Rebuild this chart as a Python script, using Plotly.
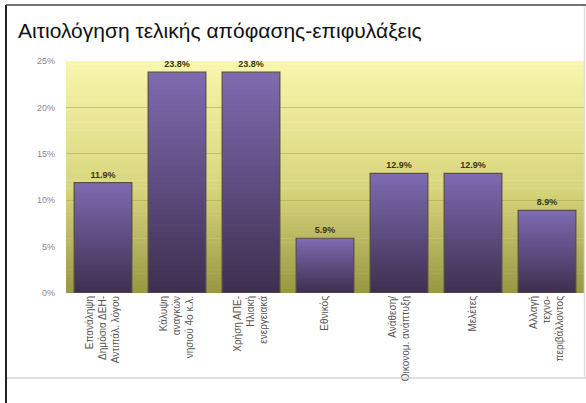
import plotly.graph_objects as go

# Survey results: justification of the final decision / reservations
categories = [
    "Επανάληψη<br>Δημόσια ΔΕΗ-<br>Αντιπάλ. λόγου",
    "Κάλυψη<br>αναγκών<br>νησιού 4ο κ.λ.",
    "Χρήση ΑΠΕ-<br>Ηλιακή<br>ενεργειακά",
    "Εθνικός",
    "Ανάθεση/<br>Οικονομ. ανάπτυξη",
    "Μελέτες",
    "Αλλαγή<br>τεχνο-<br>περιβάλλοντος",
]
shares = [0.119, 0.238, 0.238, 0.059, 0.129, 0.129, 0.089]
value_labels = ["11.9%", "23.8%", "23.8%", "5.9%", "12.9%", "12.9%", "8.9%"]
y_ticks = [0, 0.05, 0.10, 0.15, 0.20, 0.25]
y_tick_labels = ["0%", "5%", "10%", "15%", "20%", "25%"]

W, H = 586, 403
L, R, T, B = 66, 2, 61, 110


def lerp(c0, c1, t):
    return tuple(round(a + (b - a) * t) for a, b in zip(c0, c1))


def rgb(c):
    return "rgb(%d,%d,%d)" % c


fig = go.Figure()

# Bars shaded light-to-dark from top to bottom by overlaying shorter copies
bar_top = (126, 106, 176)
bar_bottom = (62, 48, 80)
N = 40
for k in range(N):
    frac = 1 - k / N
    fig.add_trace(go.Bar(
        x=categories,
        y=[v * frac for v in shares],
        marker=dict(color=rgb(lerp(bar_top, bar_bottom, k / (N - 1))), line=dict(width=0)),
        hoverinfo="skip",
        showlegend=False,
    ))

# Outline and value labels
fig.add_trace(go.Bar(
    x=categories,
    y=shares,
    text=value_labels,
    textposition="outside",
    textfont=dict(family="Liberation Sans", size=9, color="#3a3812", weight="bold"),
    cliponaxis=False,
    marker=dict(color="rgba(0,0,0,0)", line=dict(color="#5a5048", width=1.2)),
    showlegend=False,
))

# Plot-area background: vertical yellow-olive gradient
bg_stops = [(0.0, (152, 151, 66)), (0.45, (216, 213, 124)), (1.0, (249, 246, 172))]


def bg_color(t):
    for (t0, c0), (t1, c1) in zip(bg_stops, bg_stops[1:]):
        if t <= t1:
            return lerp(c0, c1, (t - t0) / (t1 - t0))
    return bg_stops[-1][1]


shapes = []
M = 60
for j in range(M):
    y0 = 0.25 * j / M
    y1 = 0.25 * (j + 1) / M
    shapes.append(dict(
        type="rect", xref="x domain", yref="y", x0=0, x1=1, y0=y0, y1=y1 + 0.0005,
        fillcolor=rgb(bg_color((j + 0.5) / M)), line=dict(width=0), layer="below",
    ))

pw = W - L - R
ph = H - T - B


def px_x(p):
    return (p - L) / pw


def px_y(p):
    return (H - B - p) / ph


# Chart frame: dark left/top border, light inner box
shapes += [
    dict(type="line", xref="paper", yref="paper", x0=px_x(6), x1=px_x(6), y0=px_y(5), y1=px_y(403),
         line=dict(color="#222222", width=2)),
    dict(type="line", xref="paper", yref="paper", x0=px_x(6), x1=px_x(586), y0=px_y(5), y1=px_y(5),
         line=dict(color="#444444", width=1.5)),
    dict(type="line", xref="paper", yref="paper", x0=px_x(7), x1=px_x(586), y0=px_y(378), y1=px_y(378),
         line=dict(color="#d4d4d4", width=1.5)),
    dict(type="line", xref="paper", yref="paper", x0=px_x(584.5), x1=px_x(584.5), y0=px_y(6), y1=px_y(378),
         line=dict(color="#dddddd", width=1.5)),
]

fig.update_layout(
    width=W, height=H,
    margin=dict(l=L, r=R, t=T, b=B),
    paper_bgcolor="white",
    plot_bgcolor="rgba(0,0,0,0)",
    barmode="overlay",
    bargap=0.22,
    shapes=shapes,
    title=dict(
        text="Αιτιολόγηση τελικής απόφασης-επιφυλάξεις",
        x=18 / W, xanchor="left", xref="container",
        y=1 - 31 / H, yanchor="middle", yref="container",
        font=dict(family="Liberation Sans", size=21, color="#111111"),
    ),
    font=dict(family="Liberation Sans"),
    xaxis=dict(
        tickangle=-90,
        tickfont=dict(family="Liberation Sans Narrow, Liberation Sans", size=10, color="#555555"),
        showgrid=False, showline=False, ticks="",
    ),
    yaxis=dict(
        range=[0, 0.25],
        tickvals=y_ticks, ticktext=y_tick_labels,
        tickfont=dict(size=9, color="#888888"),
        showgrid=True, gridcolor="rgba(170,165,80,0.55)", gridwidth=1,
        zeroline=False, showline=False, ticks="",
        ticklabelstandoff=10,
    ),
)

fig.write_html("out.html")
